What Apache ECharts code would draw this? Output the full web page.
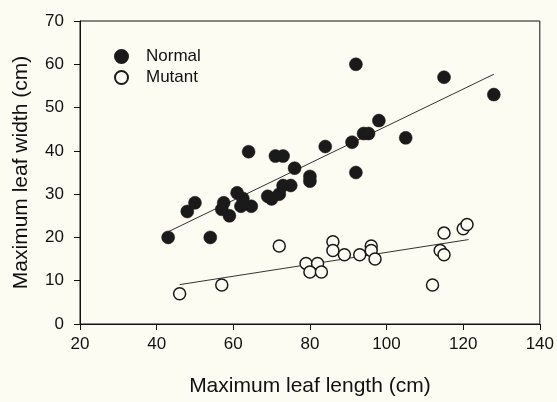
<!DOCTYPE html>
<html>
<head>
<meta charset="utf-8">
<script src="https://cdn.jsdelivr.net/npm/echarts@6/dist/echarts.min.js"></script>
<style>
  html, body { margin: 0; padding: 0; background: #fdfcf3; }
  #chart { width: 557px; height: 402px; }
</style>
</head>
<body>
<div id="chart"></div>
<script>
// leaf length (x) and width (y)
const normalLength = [43, 48, 50, 54, 57, 57.5, 59, 61, 62, 62.5, 64, 64.7, 69, 70, 71, 72, 73, 73, 75, 76, 80, 80, 84, 91, 92, 92, 94, 95.3, 98, 105, 115, 128];
const normalWidth  = [20, 26, 28, 20, 26.5, 28, 25, 30.3, 27.2, 29, 39.8, 27.2, 29.5, 28.9, 38.8, 30, 38.8, 32, 32, 36, 34.1, 33, 41, 42, 35, 60, 44, 44, 47, 43, 57, 53];
const mutantLength = [46, 57, 72, 79, 82, 80, 83, 86, 86, 89, 93, 96, 96, 97, 112, 114, 115, 115, 120, 121];
const mutantWidth  = [7, 9, 18, 14, 14, 12, 12, 19, 17, 16, 16, 18, 17, 15, 9, 17, 16, 21, 22, 23];

// fitted lines (endpoints)
const normalFit = [[43, 21.3], [128, 57.7]];
const mutantFit = [[46, 9.1], [121.4, 19.5]];

const xTicks = [20, 40, 60, 80, 100, 120, 140];
const yTicks = [0, 10, 20, 30, 40, 50, 60, 70];

const zip = (a, b) => a.map((v, i) => [v, b[i]]);
const font = 'Liberation Sans, Arial, sans-serif';

const chart = echarts.init(document.getElementById('chart'));
chart.setOption({
  backgroundColor: '#fdfcf3',
  animation: false,
  grid: {
    left: 80, right: 16, top: 21, bottom: 76,
    show: true, borderColor: '#111', borderWidth: 1
  },
  legend: {
    left: 109, top: 43, orient: 'vertical',
    itemWidth: 13, itemHeight: 13, itemGap: 4,
    data: ['Normal', 'Mutant'],
    textStyle: { fontFamily: font, fontSize: 17, color: '#111', padding: [0, 0, 0, 13] }
  },
  xAxis: {
    type: 'value', min: xTicks[0], max: xTicks[xTicks.length - 1], interval: 20,
    name: 'Maximum leaf length (cm)', nameLocation: 'middle', nameGap: 52,
    nameTextStyle: { fontFamily: font, fontSize: 21, color: '#111' },
    axisLine: { show: true, lineStyle: { color: '#111', width: 1 } },
    axisTick: { show: true, inside: false, length: 6, lineStyle: { color: '#111' } },
    axisLabel: { fontFamily: font, fontSize: 17, color: '#111', margin: 12 },
    splitLine: { show: false }
  },
  yAxis: {
    type: 'value', min: yTicks[0], max: yTicks[yTicks.length - 1], interval: 10,
    name: 'Maximum leaf width (cm)', nameLocation: 'middle', nameGap: 48,
    nameTextStyle: { fontFamily: font, fontSize: 21, color: '#111' },
    axisLine: { show: true, lineStyle: { color: '#111', width: 1 } },
    axisTick: { show: true, inside: false, length: 6, lineStyle: { color: '#111' } },
    axisLabel: { fontFamily: font, fontSize: 17, color: '#111', margin: 16 },
    splitLine: { show: false }
  },
  series: [
    {
      name: 'Normal fit', type: 'line', data: normalFit, symbol: 'none',
      lineStyle: { color: '#333', width: 1 }, z: 1
    },
    {
      name: 'Mutant fit', type: 'line', data: mutantFit, symbol: 'none',
      lineStyle: { color: '#333', width: 1 }, z: 1
    },
    {
      name: 'Normal', type: 'scatter', data: zip(normalLength, normalWidth),
      symbol: 'circle', symbolSize: 13,
      itemStyle: { color: '#1a1a1a', borderColor: '#1a1a1a', borderWidth: 0.5, opacity: 1 }, z: 3
    },
    {
      name: 'Mutant', type: 'scatter', data: zip(mutantLength, mutantWidth),
      symbol: 'circle', symbolSize: 12,
      itemStyle: { color: '#fdfcf3', borderColor: '#1a1a1a', borderWidth: 1.5, opacity: 1 }, z: 3
    }
  ]
});
</script>
</body>
</html>
